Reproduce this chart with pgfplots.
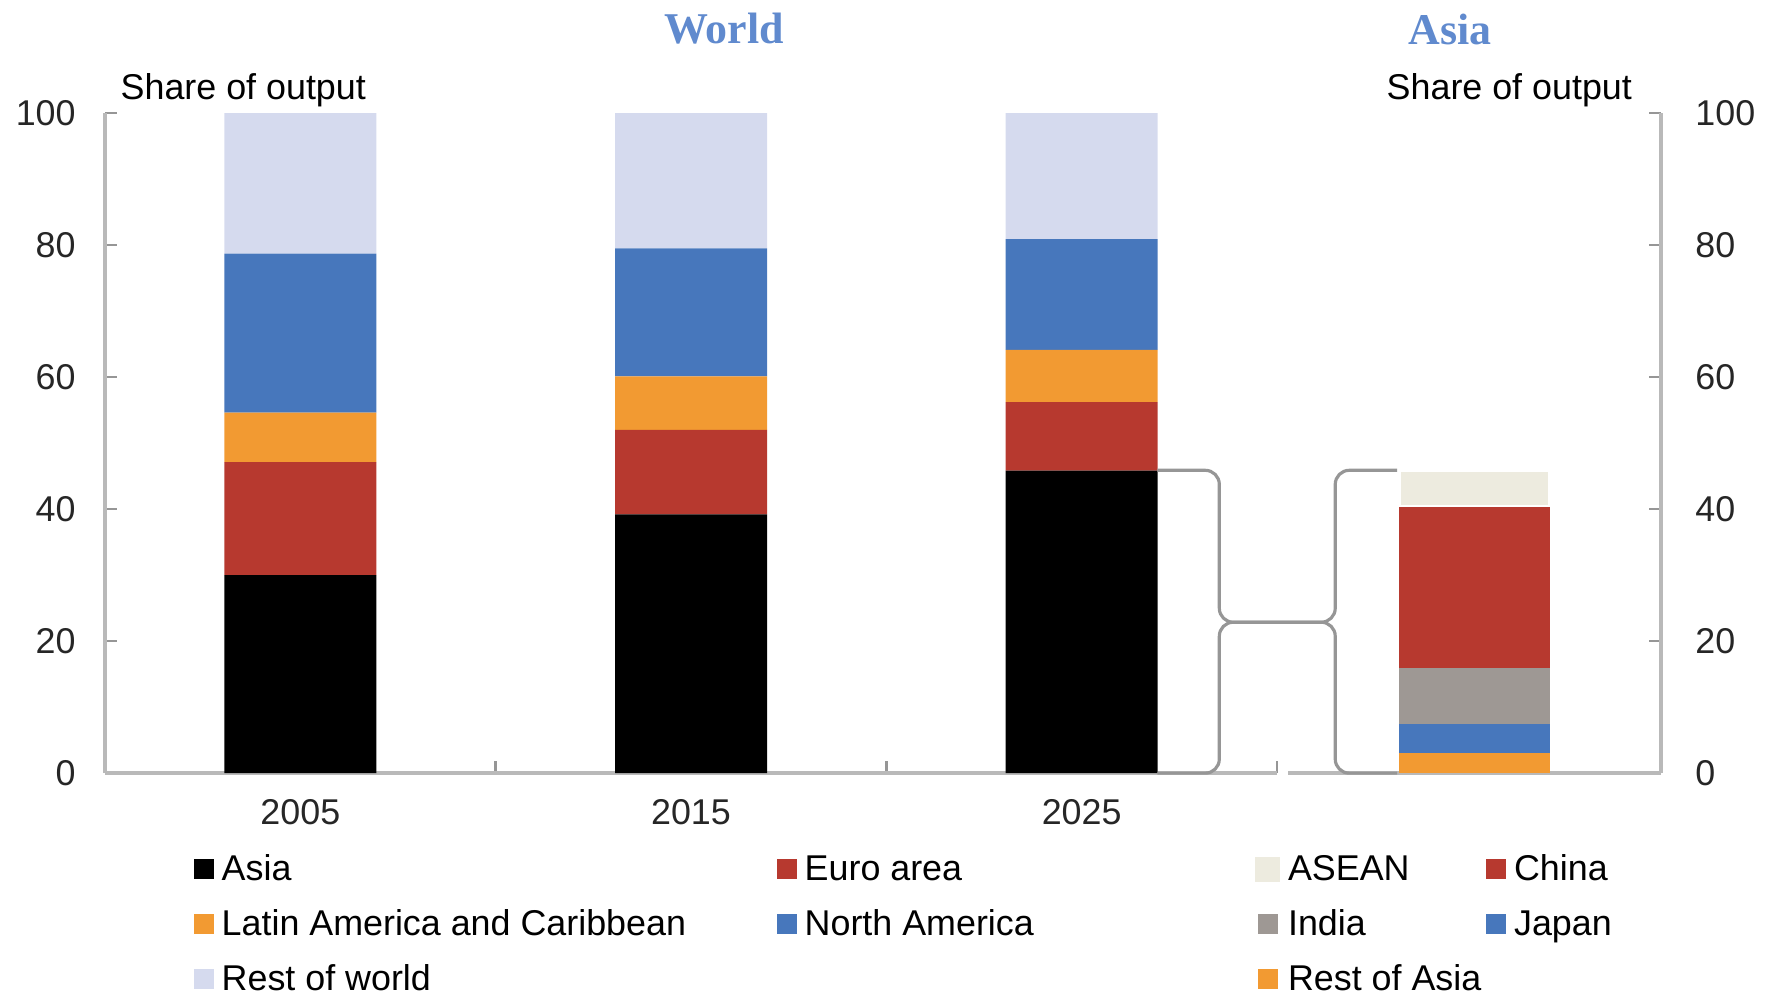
\documentclass[border=0pt]{standalone}
\usepackage{fontspec}
\setmainfont{Liberation Sans}
\newfontfamily\titlefont{Liberation Serif}
\usepackage{pgfplots}
\pgfplotsset{compat=1.18}

\definecolor{cred}{RGB}{183,57,47}
\definecolor{corange}{RGB}{242,154,50}
\definecolor{cblue}{RGB}{71,119,188}
\definecolor{crest}{RGB}{213,218,238}
\definecolor{casean}{RGB}{237,235,223}
\definecolor{cindia}{RGB}{158,152,148}
\definecolor{linegray}{RGB}{185,185,185}
\definecolor{tickgray}{RGB}{150,150,150}
\definecolor{titleblue}{RGB}{96,138,206}

\newcommand{\lab}{\fontsize{10.2}{12}\selectfont}

\pgfplotsset{
  shareaxis/.style={
    scale only axis,
    height=6.60cm,
    ymin=0, ymax=100,
    ytick={0,20,40,60,80,100},
    ybar stacked,
    axis line style={draw=linegray, line width=1pt},
    tick style={draw=tickgray, line width=0.8pt},
    major tick length=0.12cm,
    /pgf/number format/assume math mode=true,
    ticklabel style={font=\lab, text=black!85},
    legend image code/.code={\fill[##1] (0cm,-0.08cm) rectangle (0.2cm,0.12cm);},
    legend style={draw=none, fill=none, inner sep=0pt, font=\lab,
      anchor=north west, row sep=0.21cm,
      nodes={inner sep=0pt, text height=0.26cm, text depth=0.08cm},
      cells={anchor=west},
      /tikz/every odd column/.append style={column sep=0.08cm}},
    legend columns=2,
  },
}

\begin{document}
\begin{tikzpicture}
\useasboundingbox (0,0) rectangle (17.65cm,9.95cm);

% World: shares by region
\begin{axis}[shareaxis,
  at={(1.05cm,2.22cm)}, anchor=south west,
  width=11.72cm,
  xmin=0.5, xmax=3.5,
  bar width=1.52cm,
  axis x line*=bottom, axis y line*=left,
  tick align=inside,
  xtick={1.5,2.5,3.5}, xticklabels={},
  extra x ticks={1,2,3},
  extra x tick labels={2005,2015,2025},
  extra x tick style={major tick length=0pt, xticklabel style={yshift=-0.14cm}},
  yticklabel style={xshift=-0.17cm},
  legend style={at={(0.0751,-0.122)}},
]
\addplot[fill=black, draw=none] coordinates {(1,30.0) (2,39.2) (3,45.8)};
\addlegendentry{\makebox[5.55cm][l]{Asia}}
\addplot[fill=cred, draw=none] coordinates {(1,17.1) (2,12.8) (3,10.4)};
\addlegendentry{Euro area}
\addplot[fill=corange, draw=none] coordinates {(1,7.5) (2,8.1) (3,7.9)};
\addlegendentry{\makebox[5.55cm][l]{Latin America and Caribbean}}
\addplot[fill=cblue, draw=none] coordinates {(1,24.1) (2,19.4) (3,16.8)};
\addlegendentry{North America}
\addplot[fill=crest, draw=none] coordinates {(1,21.3) (2,20.5) (3,19.1)};
\addlegendentry{\makebox[5.55cm][l]{Rest of world}}
\end{axis}

% Asia: breakdown of the 2025 Asia bar
\begin{axis}[shareaxis,
  at={(12.88cm,2.22cm)}, anchor=south west,
  width=3.73cm,
  xmin=0, xmax=1,
  bar width=1.51cm,
  axis x line*=bottom, axis y line*=right,
  tick align=inside,
  xtick=\empty,
  yticklabel style={xshift=0.22cm},
  reverse legend,
  legend style={at={(-0.09,-0.122)}},
]
\addplot[fill=corange, draw=none] coordinates {(0.5,3.1)};
\addlegendentry{Rest of Asia}
\addplot[fill=cblue, draw=none] coordinates {(0.5,4.3)};
\addlegendentry{Japan}
\addplot[fill=cindia, draw=none] coordinates {(0.5,8.5)};
\addlegendentry{\makebox[1.98cm][l]{India}}
\addplot[fill=cred, draw=none] coordinates {(0.5,24.4)};
\addlegendentry{China}
\addplot[fill=casean, draw=white, line width=1.4pt,
  legend image code/.code={\fill[casean] (0cm,-0.08cm) rectangle (0.2cm,0.12cm);}]
  coordinates {(0.5,5.7)};
\addlegendentry{\makebox[1.98cm][l]{ASEAN}}
\end{axis}

% connector between the 2025 Asia bar and the breakdown
\begin{scope}[x=0.01cm, y=0.01cm]
\draw[tickgray, line width=0.9pt, rounded corners=0.14cm]
  (1158,525) -| (1220,373) -| (1336,525) -- (1398,525);
\draw[tickgray, line width=0.9pt, rounded corners=0.14cm]
  (1158,222) -| (1220,373) -| (1336,222) -- (1398,222);
\end{scope}

% titles
\node[font=\titlefont\bfseries\fontsize{12.5}{14}\selectfont, text=titleblue] at (7.24cm,9.66cm) {World};
\node[font=\titlefont\bfseries\fontsize{12.5}{14}\selectfont, text=titleblue] at (14.50cm,9.66cm) {Asia};
\node[anchor=west, inner sep=0pt, font=\lab] at (1.20cm,9.05cm) {Share of output};
\node[anchor=west, inner sep=0pt, font=\lab] at (13.86cm,9.05cm) {Share of output};
\end{tikzpicture}
\end{document}
